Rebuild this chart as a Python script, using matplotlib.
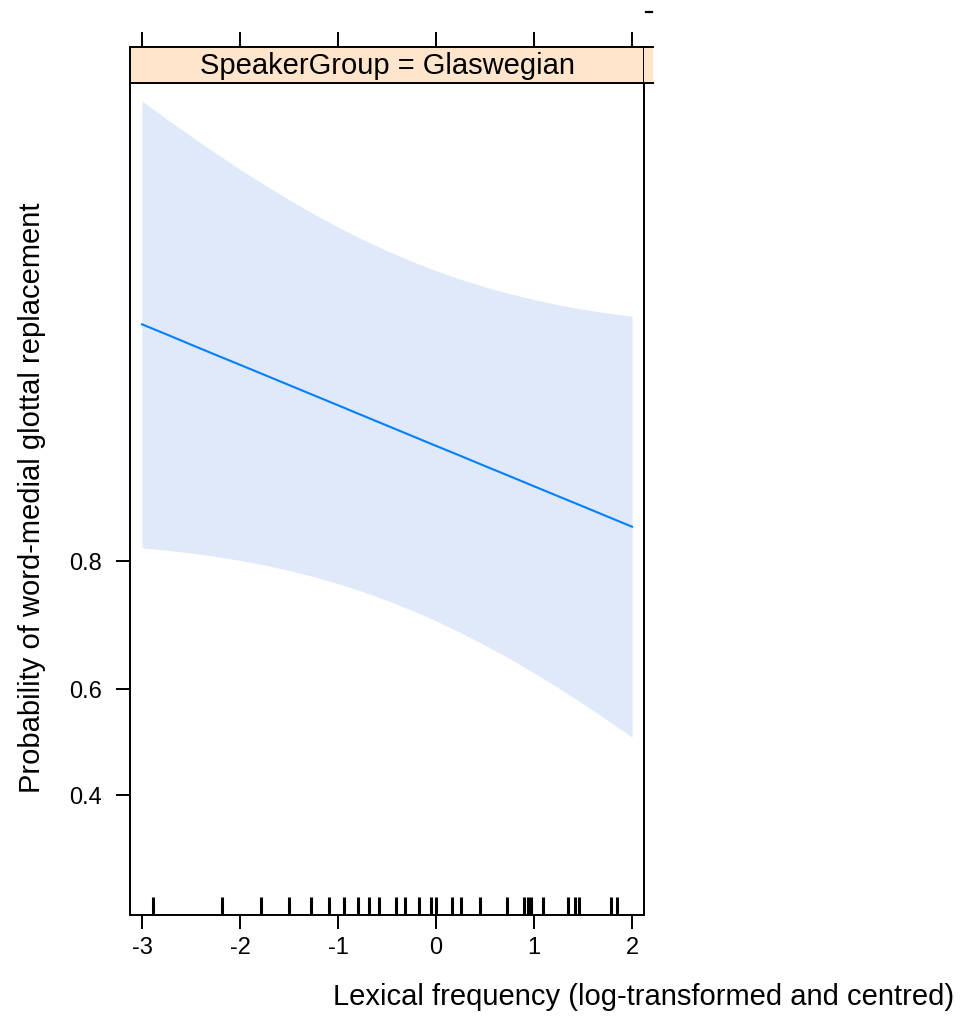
import matplotlib
matplotlib.use("Agg")
import matplotlib.pyplot as plt
from matplotlib.ticker import FixedLocator, FixedFormatter, NullLocator
from matplotlib.patches import Rectangle
from matplotlib.lines import Line2D

plt.rcParams['font.family'] = ['Liberation Sans', 'DejaVu Sans']

# ---- data ----
freq = [-3.0, -2.75, -2.5, -2.25, -2.0, -1.75, -1.5, -1.25, -1.0, -0.75, -0.5,
        -0.25, 0.0, 0.25, 0.5, 0.75, 1.0, 1.25, 1.5, 1.75, 2.0]
fit = [0.9607, 0.9577, 0.9544, 0.9509, 0.9472, 0.9432, 0.9389, 0.9343, 0.9294,
       0.9241, 0.9185, 0.9125, 0.9061, 0.8994, 0.8921, 0.8845, 0.8763, 0.8677,
       0.8586, 0.8489, 0.8387]
upper = [0.99264, 0.99157, 0.99039, 0.98908, 0.98765, 0.98611, 0.98447, 0.98273,
         0.98093, 0.97909, 0.97722, 0.97538, 0.97357, 0.97183, 0.97018, 0.96867,
         0.96723, 0.96595, 0.96482, 0.96382, 0.96295]
lower = [0.8156, 0.8129, 0.8096, 0.8056, 0.8008, 0.7951, 0.7883, 0.7803, 0.7709,
         0.7601, 0.7475, 0.7332, 0.7168, 0.6983, 0.6777, 0.6548, 0.6297, 0.6025,
         0.5733, 0.5423, 0.5098]
rug = [-2.885, -2.187, -1.784, -1.495, -1.273, -1.093, -0.940, -0.800, -0.687,
       -0.582, -0.412, -0.320, -0.177, -0.051, 0.004, 0.161, 0.250, 0.447, 0.726,
       0.900, 0.934, 0.971, 1.087, 1.343, 1.421, 1.455, 1.782, 1.850]
x_ticks = [-3, -2, -1, 0, 1, 2]
x_ticklabels = ['-3', '-2', '-1', '0', '1', '2']
y_ticks = [0.4, 0.6, 0.8]
y_ticklabels = ['0.4', '0.6', '0.8']
strip_label = 'SpeakerGroup = Glaswegian'
x_label = 'Lexical frequency (log-transformed and centred)'
y_label = 'Probability of word-medial glottal replacement'

# ---- layout ----
W, H = 966, 1019
fig = plt.figure(figsize=(W / 100, H / 100), dpi=100)
fig.patch.set_facecolor('white')

def fx(px):
    return px / W

def fy(py):
    return 1 - py / H

left_px, right_px, top_px, bot_px = 130, 644, 83, 915
strip_top_px = 47
xlim = (-3.122, 2.122)
ylim = (0.2107, 0.99358)
SP_LW = 1.4

ax = fig.add_axes([fx(left_px), fy(bot_px), fx(right_px - left_px), (bot_px - top_px) / H])
ax.set_yscale('logit')
ax.set_xlim(*xlim)
ax.set_ylim(*ylim)

line_col = '#0080ff'
ax.fill_between(freq, lower, upper, color='#dfe9fa', lw=0, zorder=1)
ax.plot(freq, fit, color=line_col, lw=1.5, zorder=2)
ax.vlines(rug, 0, 0.022, transform=ax.get_xaxis_transform(), color='black', lw=2.2, zorder=3)

ax.xaxis.set_major_locator(FixedLocator(x_ticks))
ax.xaxis.set_major_formatter(FixedFormatter(x_ticklabels))
ax.yaxis.set_major_locator(FixedLocator(y_ticks))
ax.yaxis.set_major_formatter(FixedFormatter(y_ticklabels))
ax.xaxis.set_minor_locator(NullLocator())
ax.yaxis.set_minor_locator(NullLocator())
ax.tick_params(axis='x', which='major', direction='out', length=10, width=SP_LW,
               labelsize=17, pad=6, bottom=True, top=False)
ax.tick_params(axis='y', which='major', direction='out', length=10, width=SP_LW,
               labelsize=17, pad=10, left=True, right=False)
for s in ax.spines.values():
    s.set_linewidth(SP_LW)
    s.set_color('black')

# strip
sax = fig.add_axes([fx(left_px), fy(top_px), fx(right_px - left_px), (top_px - strip_top_px) / H])
sax.set_facecolor('#ffe5cc')
sax.set_xlim(*xlim)
sax.set_ylim(0, 1)
sax.xaxis.set_major_locator(FixedLocator(x_ticks))
sax.xaxis.tick_top()
sax.tick_params(axis='x', direction='out', length=10.5, width=SP_LW, labeltop=False, labelbottom=False)
sax.set_yticks([])
for s in sax.spines.values():
    s.set_linewidth(SP_LW)
sax.text(0.5, 0.47, strip_label, transform=sax.transAxes, ha='center', va='center', fontsize=21)

# continuation of the strip beyond the panel border (cropped neighbour)
ext = Rectangle((fx(right_px), fy(top_px)), fx(653 - right_px), (top_px - strip_top_px) / H,
                transform=fig.transFigure, facecolor='#ffe5cc', edgecolor='none', zorder=0)
fig.patches.append(ext)
fig.lines.append(Line2D([fx(right_px), fx(653)], [fy(strip_top_px), fy(strip_top_px)],
                        transform=fig.transFigure, color='black', lw=SP_LW))
fig.lines.append(Line2D([fx(right_px), fx(653)], [fy(top_px), fy(top_px)],
                        transform=fig.transFigure, color='black', lw=SP_LW))
fig.lines.append(Line2D([fx(646), fx(652)], [fy(11.5), fy(11.5)],
                        transform=fig.transFigure, color='black', lw=1.6))

fig.text(fx(32), fy(498), y_label, rotation=90, ha='center', va='center', fontsize=21)
fig.text(fx(644), fy(997), x_label, ha='center', va='center', fontsize=21)

fig.savefig('out.png', dpi=100, facecolor='white')
